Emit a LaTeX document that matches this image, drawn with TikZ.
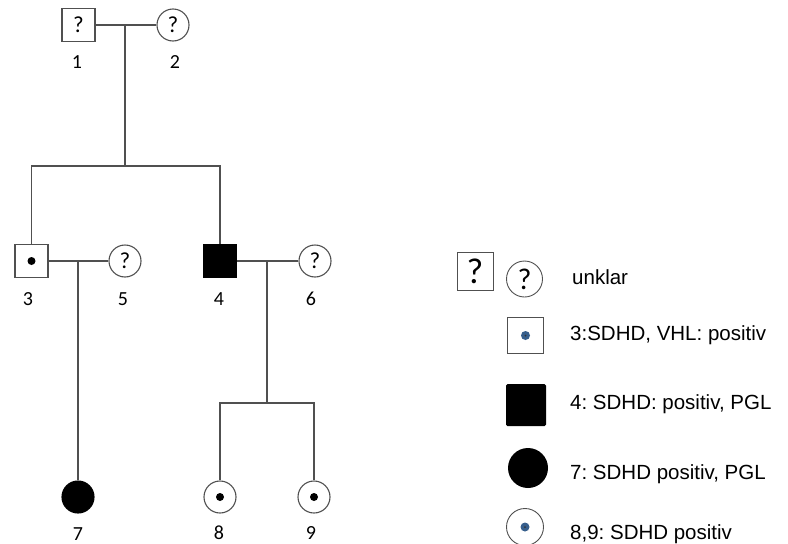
\documentclass[tikz,border=0pt]{standalone}
\usepackage{fontspec}
\setmainfont{Carlito}
\newfontfamily\legendfont{Liberation Sans}
\definecolor{lineg}{RGB}{80,80,80}
\definecolor{dotblue}{RGB}{55,95,140}

\tikzset{
  line/.style={draw=lineg,line width=1.1pt},
  male/.style={line,rectangle,minimum size=33pt,inner sep=0pt,font=\fontsize{23}{26}\selectfont},
  female/.style={line,circle,minimum size=32pt,inner sep=0pt,font=\fontsize{23}{26}\selectfont},
  affected/.style={fill=black,draw=black},
  carrier/.style={path picture={\fill (path picture bounding box.center) circle (4pt);}},
  bluedot/.style={path picture={
      \fill[dotblue] (path picture bounding box.center) circle (4.5pt);
      \fill[black!80] (path picture bounding box.center) circle (1pt);}},
  num/.style={anchor=base,inner sep=0pt,font=\fontsize{20}{24}\selectfont},
  legtext/.style={anchor=base west,inner sep=0pt,font=\legendfont\fontsize{20.5}{24}\selectfont\frenchspacing}
}

\begin{document}
\begin{tikzpicture}[x=1pt,y=-1pt]
\useasboundingbox (0,0) rectangle (788,544);
\clip (0,0) rectangle (788,544);

% generation I
\node[male] (n1) at (78.5,25) {?};
\node[female] (n2) at (173,25) {?};
\node[num] (t1) at (77,68) {1};
\node[num] (t2) at (175,68) {2};

% generation II
\node[male,carrier] (n3) at (31.5,261) {};
\node[female] (n5) at (125,261) {?};
\node[male,affected] (n4) at (220,261) {};
\node[female] (n6) at (315,261) {?};
\node[num] (t3) at (28,305) {3};
\node[num] (t5) at (123,305) {5};
\node[num] (t4) at (219,305) {4};
\node[num] (t6) at (311,305) {6};

% generation III
\node[female,affected] (n7) at (78,497) {};
\node[female,carrier] (n8) at (220,497) {};
\node[female,carrier] (n9) at (314,497) {};
\node[num] (t7) at (78,540) {7};
\node[num] (t8) at (219,539) {8};
\node[num] (t9) at (311,539) {9};

% partnerships and descent
\coordinate (m12) at (125,25);
\coordinate (s12) at (125,166);
\coordinate (m35) at (78,261);
\coordinate (m46) at (267,261);
\coordinate (s46) at (267,403);

\draw[line] (n1) -- (n2);
\draw[line] (m12) -- (s12);
\draw[line] (n3.north) |- (s12) -| (n4.north);
\draw[line] (n3) -- (n5);
\draw[line] (m35) -- (n7);
\draw[line] (n4) -- (n6);
\draw[line] (m46) -- (s46);
\draw[line] (n8.north) |- (s46) -| (n9.north);

% legend
\node[line,line width=0.9pt,rectangle,minimum width=36pt,minimum height=38pt,inner sep=0pt,font=\fontsize{36}{38}\selectfont] (k1) at (475,271.5) {?};
\node[line,line width=0.9pt,circle,minimum size=36pt,inner sep=0pt,font=\fontsize{30}{32}\selectfont] (k2) at (524.5,279) {?};
\node[legtext] (l1) at (572,284) {unklar};

\node[line,line width=0.9pt,rectangle,minimum size=36pt,bluedot] (k3) at (525.5,335.5) {};
\node[legtext] (l3) at (570,340) {3:SDHD, VHL: positiv};

\node[rectangle,fill=black,rounded corners=1.5pt,minimum width=40pt,minimum height=42pt] (k4) at (526,405) {};
\node[legtext] (l4) at (570,409) {4: SDHD: positiv, PGL};

\node[circle,fill=black,minimum size=40pt] (k7) at (528,468) {};
\node[legtext] (l7) at (570,479) {7: SDHD positiv, PGL};

\node[line,line width=0.9pt,circle,minimum size=37pt,bluedot] (k8) at (525,527) {};
\node[legtext] (l8) at (570,539) {8,9: SDHD positiv};
\end{tikzpicture}
\end{document}
